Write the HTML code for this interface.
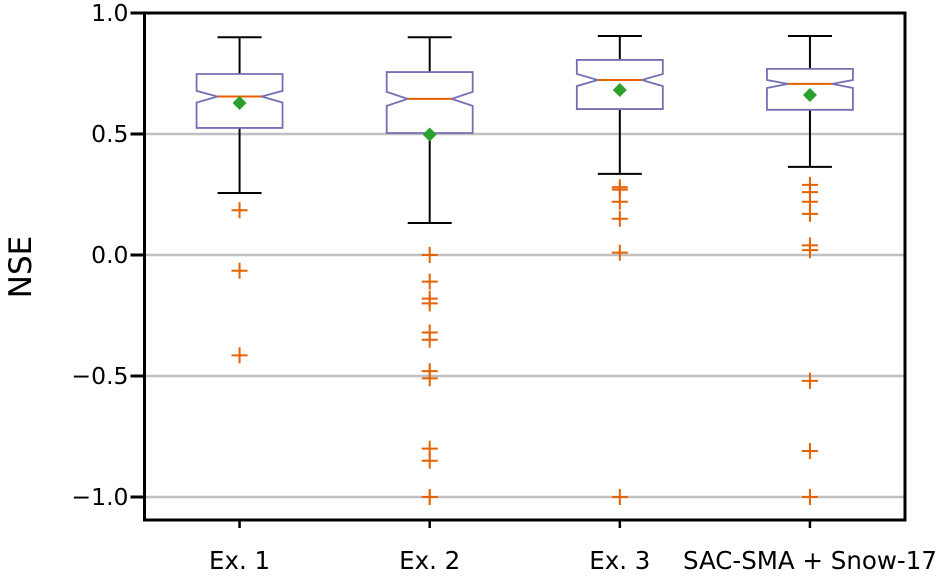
<!DOCTYPE html>
<html><head><meta charset="utf-8"><style>
body{margin:0;background:#fff;}
svg text{font-family:"DejaVu Sans","Liberation Sans",sans-serif;}
</style></head><body>
<svg id="chart" width="944" height="576" viewBox="0 0 944 576" xmlns="http://www.w3.org/2000/svg"></svg>
<script>
const categories = ["Ex. 1","Ex. 2","Ex. 3","SAC-SMA + Snow-17"];
const whiskerHigh = [0.90,0.90,0.905,0.905];
const q3 = [0.748,0.756,0.806,0.769];
const notchHigh = [0.678,0.674,0.748,0.723];
const medians = [0.655,0.645,0.723,0.707];
const notchLow = [0.630,0.616,0.698,0.690];
const q1 = [0.525,0.504,0.603,0.600];
const whiskerLow = [0.256,0.132,0.335,0.364];
const means = [0.628,0.498,0.682,0.661];
const outliers = [
  [0.185,-0.065,-0.415],
  [0.0,-0.11,-0.18,-0.20,-0.32,-0.35,-0.48,-0.51,-0.80,-0.85,-1.0,-1.0],
  [0.28,0.27,0.22,0.15,0.01,-1.0],
  [0.29,0.26,0.22,0.17,0.04,0.02,-0.52,-0.81,-1.0]
];
const yTicks = [1.0,0.5,0.0,-0.5,-1.0];
const yTickLabels = ["1.0","0.5","0.0","\u22120.5","\u22121.0"];

const svg = document.getElementById('chart');
const NS = "http://www.w3.org/2000/svg";
const L=144.5,R=905,T=13,B=520;
const yMin=-1.095,yMax=1.0;
function y(v){return B-(v-yMin)/(yMax-yMin)*(B-T);}
function x(i){return L+(i+0.5)*(R-L)/categories.length;}
function mk(tag,attrs,parent){const e=document.createElementNS(NS,tag);for(const k in attrs)e.setAttribute(k,attrs[k]);(parent||svg).appendChild(e);return e;}

yTicks.forEach((v,i)=>{
  const g=mk('line',{x1:L,x2:R,y1:y(v),y2:y(v),stroke:'#c0c0c0','stroke-width':2.5});
  
  
});
categories.forEach((c,i)=>{
  const cx=x(i), hw=43, nw=22, cw=22;
  const grp=mk('g',{});
  
  
  mk('line',{x1:cx,x2:cx,y1:y(whiskerHigh[i]),y2:y(q3[i]),stroke:'#000','stroke-width':2},grp);
  mk('line',{x1:cx,x2:cx,y1:y(q1[i]),y2:y(whiskerLow[i]),stroke:'#000','stroke-width':2},grp);
  mk('line',{x1:cx-cw,x2:cx+cw,y1:y(whiskerHigh[i]),y2:y(whiskerHigh[i]),stroke:'#000','stroke-width':2},grp);
  mk('line',{x1:cx-cw,x2:cx+cw,y1:y(whiskerLow[i]),y2:y(whiskerLow[i]),stroke:'#000','stroke-width':2},grp);
  const pts=[[cx-hw,y(q1[i])],[cx+hw,y(q1[i])],[cx+hw,y(notchLow[i])],[cx+nw,y(medians[i])],[cx+hw,y(notchHigh[i])],[cx+hw,y(q3[i])],[cx-hw,y(q3[i])],[cx-hw,y(notchHigh[i])],[cx-nw,y(medians[i])],[cx-hw,y(notchLow[i])]];
  mk('polygon',{points:pts.map(p=>p.join(',')).join(' '),fill:'none',stroke:'#7570b3','stroke-width':1.8},grp);
  mk('line',{x1:cx-nw,x2:cx+nw,y1:y(medians[i]),y2:y(medians[i]),stroke:'#e66101','stroke-width':2},grp);
  const my=y(means[i]);
  const m=mk('polygon',{points:`${cx},${my-7} ${cx+7},${my} ${cx},${my+7} ${cx-7},${my}`,fill:'#2ca02c'},grp);
  
  
  outliers[i].forEach(v=>{
    const oy=y(v);
    const o=mk('path',{d:`M${cx-8},${oy}H${cx+8}M${cx},${oy-8}V${oy+8}`,stroke:'#e66101','stroke-width':2,fill:'none'},grp);
    
    
  });
  mk('line',{x1:cx,x2:cx,y1:B,y2:B+8,stroke:'#000','stroke-width':2.5});
  const t=mk('text',{x:cx,y:569,'text-anchor':'middle','font-size':24.5,fill:'#000'});
  t.textContent=c;
  
  
});
const fr=mk('rect',{x:L,y:T,width:R-L,height:B-T,fill:'none',stroke:'#000','stroke-width':3});


yTicks.forEach((v,i)=>{
  mk('line',{x1:L-14,x2:L,y1:y(v),y2:y(v),stroke:'#000','stroke-width':3});
  const t=mk('text',{x:L-16,y:y(v)+8,'text-anchor':'end','font-size':23.5,fill:'#000'});
  t.textContent=yTickLabels[i];
  
  
});
const yl=mk('text',{x:0,y:0,transform:'translate(31,267) rotate(-90)','text-anchor':'middle','font-size':31,fill:'#000'});
yl.textContent='NSE';


</script>
</body></html>
